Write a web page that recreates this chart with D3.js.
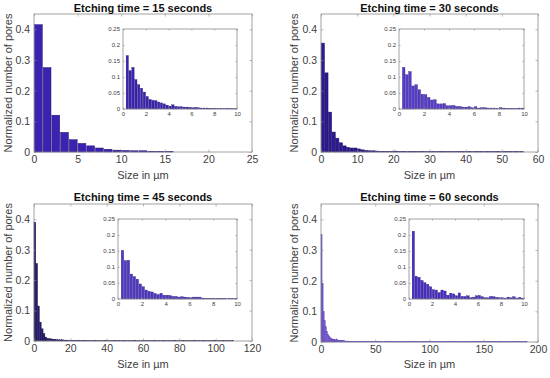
<!DOCTYPE html>
<html>
<head>
<meta charset="utf-8">
<script src="https://cdn.jsdelivr.net/npm/d3@7"></script>
<style>
  body { margin: 0; background: #fff; }
  svg { display: block; font-family: "Liberation Sans", Arial, sans-serif; }
  .tick text { fill: #404040; }
</style>
</head>
<body>
<svg id="chart" width="550" height="378"></svg>
<script>
"use strict";

// main histograms: bin width 1 µm, starting at 0
const titles = ["Etching time = 15 seconds", "Etching time = 30 seconds",
                "Etching time = 45 seconds", "Etching time = 60 seconds"]
const xMax = [25, 60, 120, 200]
const xTicks = [[0,5,10,15,20,25], [0,10,20,30,40,50,60],
                [0,20,40,60,80,100,120], [0,50,100,150,200]]
const yTicks = [0, 0.1, 0.2, 0.3, 0.4]

const main15 = [0.415,0.275,0.12,0.064,0.04,0.028,0.02,0.013,0.009,0.006,0.005,0.004,0.004,0.002,0.002,0.002]
const main30 = [0.355,0.258,0.13,0.065,0.045,0.03,0.02,0.015,0.013,0.013,0.01,0.007,0.005,0.004,0.004,0.003,
  0.002,0.002,0.002,0.002,0.003,0.002,0.002,0.001,0.002,0.001,0.001,0.002,0.001,0.001,0.001,0.001,
  0.001,0.001,0.001,0.001,0.001,0.001,0.001,0.001,0.001,0.001,0.001,0.001,0.001,0.001,0.001,0.001,
  0.001,0.001,0.001,0.001,0.001,0.001,0.001,0.001]
const main45 = [0.39,0.255,0.115,0.062,0.04,0.025,0.013,0.009,0.008,0.007,0.006,0.006,0.005,0.004,0.004,0.004,
  0.003,0.003,0.003,0.002,0.003,0.002,0.002,0.002,0.003,0.002,0.002,0.002,0.001,0.002,0.001,0.001,
  0.001,0.001,0.001,0.001,0.001,0.001,0.001,0.001,0.001,0.001,0.001,0.001,0.001,0.001,0.002,0.001,
  0.001,0.001,0.001,0.001,0.001,0.001,0.001,0.001,0.001,0.001,0.001,0.001,0.001,0.001,0.001,0.001,
  0.001,0.001,0.001,0.001,0.001,0.001,0.001,0.001,0.001,0.001,0.001,0.001,0.001,0.001,0.001,0.001,
  0.001,0.001,0.001,0.001,0.001,0.001,0.001,0.001,0.001,0.001,0.001,0.001,0.001,0.001,0.001,0.001,
  0.001,0.001,0.001,0.001,0.001,0.001,0.001,0.001,0.001,0.001,0.001,0.001,0.001,0.001]
const main60 = [0.35,0.19,0.1,0.07,0.05,0.035,0.025,0.02,0.015,0.012,0.01,0.008,0.008,0.007,0.01,0.006,
  0.005,0.005,0.004,0.004,0.005,0.004,0.003,0.003,0.003,0.003,0.002,0.002,0.002,0.002,0.002,0.002,
  0.002,0.001,0.002,0.001,0.001,0.001,0.001,0.001,0.002,0.001,0.001,0.002,0.001,0.001,0.001,0.001,
  0.001,0.001,0.001,0.001,0.001,0.001,0.001,0.001,0.001,0.001,0.001,0.001,0.001,0.001,0.001,0.001,
  0.001,0.001,0.001,0.001,0.001,0.001,0.001,0.001,0.001,0.001,0.001,0.001,0.001,0.001,0.001,0.001,
  0.001,0.001,0.001,0.001,0.001,0.001,0.001,0.001,0.001,0.001,0.001,0.001,0.001,0.001,0.001,0.001,
  0.001,0.001,0.001,0.001,0.001,0.001,0.001,0.001,0.001,0.001,0.001,0.001,0.001,0.001,0.001,0.001,
  0.001,0.001,0.001,0.001,0.001,0.001,0.001,0.001,0.001,0.001,0.001,0.001,0.001,0.001,0.001,0.001,
  0.001,0.001,0.001,0.001,0.001,0.001,0.001,0.001,0.001,0.001,0.001,0.001,0.001,0.001,0.001,0.001,
  0.001,0.001,0.001,0.001,0.001,0.001,0.001,0.001,0.001,0.001,0.001,0.001,0.001,0.001,0.001,0.001,
  0.001,0.001,0.001,0.001,0.001,0.001,0.001,0.001,0.001,0.001,0.001,0.001,0.001,0.001,0.001,0.001,
  0.001,0.001,0.001,0.001,0.001,0.001,0.001,0.001,0.001,0.001,0.001,0.001,0.001,0.001]

// insets: bin width 0.25 µm, starting at 0.25
const insetStart = 0.25
const insetBin = 0.25
const inset15 = [0.167,0.12,0.13,0.092,0.076,0.065,0.053,0.039,0.03,0.027,0.026,0.022,0.019,0.016,0.012,0.009,
  0.013,0.008,0.007,0.007,0.006,0.006,0.005,0.004,0.005,0.004,0.003,0.003,0.003,0.002,0.002,0.002,
  0.002,0.002,0.001,0.002,0.001,0.001,0.001]
const inset30 = [0.13,0.107,0.117,0.072,0.076,0.06,0.046,0.045,0.036,0.028,0.029,0.016,0.016,0.017,0.01,0.01,
  0.011,0.008,0.008,0.006,0.006,0.007,0.004,0.007,0.003,0.004,0.004,0.003,0.003,0.003,0.002,0.004,
  0.003,0.002,0.002,0.002,0.002,0.003,0.003]
const inset45 = [0.152,0.12,0.121,0.078,0.07,0.062,0.047,0.038,0.028,0.024,0.022,0.017,0.014,0.018,0.012,0.012,
  0.011,0.008,0.008,0.006,0.007,0.006,0.005,0.004,0.006,0.006,0.006,0.003,0.002,0.002,0.002,0.001,
  0.002,0.002,0.002,0.001,0.002,0.002,0.002]
const inset60 = [0.212,0.071,0.068,0.058,0.051,0.046,0.038,0.029,0.028,0.02,0.028,0.025,0.012,0.018,0.016,0.01,
  0.019,0.008,0.008,0.01,0.004,0.006,0.01,0.011,0.007,0.004,0.004,0.008,0.007,0.005,0.004,0.004,
  0.003,0.006,0.004,0.007,0.003,0.005,0.003]
const insetXTicks = [0, 2, 4, 6, 8, 10]
const insetYTicks = [0, 0.05, 0.1, 0.15, 0.2, 0.25]

const mainData = [main15, main30, main45, main60]
const insetData = [inset15, inset30, inset45, inset60]

// layout (pixels)
const panels = [
  {ox: 0,   oy: 0,   l: 34,  r: 252, t: 14, b: 152, il: 123, ir: 237, it: 29, ib: 109, ylx: 8,
   fill: "#3b22b0", edge: "#22136e", gap: 0.9, ifill: "#3b22b0"},
  {ox: 275, oy: 0,   l: 46,  r: 263, t: 14, b: 152, il: 124, ir: 249, it: 29, ib: 109, ylx: 19,
   fill: "#2e1a90", edge: "#1c1160", gap: 0.4, ifill: "#5a3ccc"},
  {ox: 0,   oy: 189, l: 34,  r: 252, t: 15, b: 152, il: 118, ir: 237, it: 30, ib: 110, ylx: 8,
   fill: "#221a68", edge: "#18124c", gap: 0, ifill: "#5038c4"},
  {ox: 275, oy: 189, l: 46,  r: 263, t: 15, b: 153, il: 134, ir: 249, it: 30, ib: 110, ylx: 19,
   fill: "#6a4ec8", edge: "#5a3eb8", gap: 0, ifill: "#4a2ec4"}
]

const svg = d3.select("#chart")
const axisColor = "#8a8a8a"

function boxAxes(g, x, y, xt, yt, tickLen, fontSize, yFmt) {
  const [x0, x1] = x.range(), [y0, y1] = y.range()
  g.append("g").attr("transform", `translate(0,${y0})`)
    .call(d3.axisBottom(x).tickValues(xt).tickSizeInner(-tickLen).tickSizeOuter(0).tickPadding(4).tickFormat(d3.format("~g")))
  g.append("g").attr("transform", `translate(0,${y1})`)
    .call(d3.axisTop(x).tickValues(xt).tickSizeInner(-tickLen).tickSizeOuter(0).tickFormat(""))
  g.append("g").attr("transform", `translate(${x0},0)`)
    .call(d3.axisLeft(y).tickValues(yt).tickSizeInner(-tickLen).tickSizeOuter(0).tickPadding(4).tickFormat(yFmt))
  g.append("g").attr("transform", `translate(${x1},0)`)
    .call(d3.axisRight(y).tickValues(yt).tickSizeInner(-tickLen).tickSizeOuter(0).tickFormat(""))
  g.selectAll(".domain").remove()
  g.selectAll(".tick line").attr("stroke", axisColor).attr("stroke-width", 0.6)
  g.selectAll(".tick text").attr("font-size", fontSize)
  g.append("rect").attr("x", x0).attr("y", y1).attr("width", x1 - x0).attr("height", y0 - y1)
    .attr("fill", "none").attr("stroke", axisColor).attr("stroke-width", 0.8)
}

panels.forEach((p, i) => {
  const g = svg.append("g").attr("transform", `translate(${p.ox},${p.oy})`)

  const x = d3.scaleLinear().domain([0, xMax[i]]).range([p.l, p.r])
  const y = d3.scaleLinear().domain([0, 0.45]).range([p.b, p.t])

  g.append("g").selectAll("rect").data(mainData[i]).join("rect")
    .attr("x", (d, k) => x(k) + p.gap / 2)
    .attr("width", (d, k) => Math.max(0.5, x(k + 1) - x(k) - p.gap))
    .attr("y", d => y(d))
    .attr("height", d => y(0) - y(d))
    .attr("fill", p.fill)
    .attr("stroke", p.edge).attr("stroke-width", p.gap > 0 ? 0.5 : 0.3)

  boxAxes(g, x, y, xTicks[i], yTicks, 2.5, "10.5px", d3.format("~g"))

  g.append("text").attr("x", (p.l + p.r) / 2).attr("y", 11.5)
    .attr("text-anchor", "middle").attr("font-weight", "bold").attr("font-size", "11px")
    .attr("fill", "#111").text(titles[i])
  g.append("text").attr("x", (p.l + p.r) / 2).attr("y", 179)
    .attr("text-anchor", "middle").attr("font-size", "11px").attr("fill", "#404040")
    .text("Size in µm")
  g.append("text").attr("transform", `translate(${p.ylx + 4},${(p.t + p.b) / 2}) rotate(-90)`)
    .attr("text-anchor", "middle").attr("font-size", "11px").attr("fill", "#404040")
    .text("Normalized number of pores")

  // inset
  const ig = g.append("g")
  const ix = d3.scaleLinear().domain([0, 10]).range([p.il, p.ir])
  const iy = d3.scaleLinear().domain([0, 0.25]).range([p.ib, p.it])
  ig.append("rect").attr("x", p.il).attr("y", p.it).attr("width", p.ir - p.il).attr("height", p.ib - p.it)
    .attr("fill", "#fff")
  ig.append("g").selectAll("rect").data(insetData[i]).join("rect")
    .attr("x", (d, k) => ix(insetStart + k * insetBin) + 0.25)
    .attr("width", (d, k) => ix(insetStart + (k + 1) * insetBin) - ix(insetStart + k * insetBin) - 0.5)
    .attr("y", d => iy(d))
    .attr("height", d => iy(0) - iy(d))
    .attr("fill", p.ifill)
    .attr("stroke", "#24146e").attr("stroke-width", 0.3)
  boxAxes(ig, ix, iy, insetXTicks, insetYTicks, 1.5, "6px", d3.format("~g"))
  ig.selectAll(".tick text").attr("dy", null)
  ig.selectAll("g").filter(function () { return d3.select(this).attr("transform") === `translate(0,${p.ib})` })
    .selectAll(".tick text").attr("dy", "0.71em").attr("y", 3)
  ig.selectAll("g").filter(function () { return d3.select(this).attr("transform") === `translate(${p.il},0)` })
    .selectAll(".tick text").attr("dy", "0.32em").attr("x", -3)
})
</script>
</body>
</html>
